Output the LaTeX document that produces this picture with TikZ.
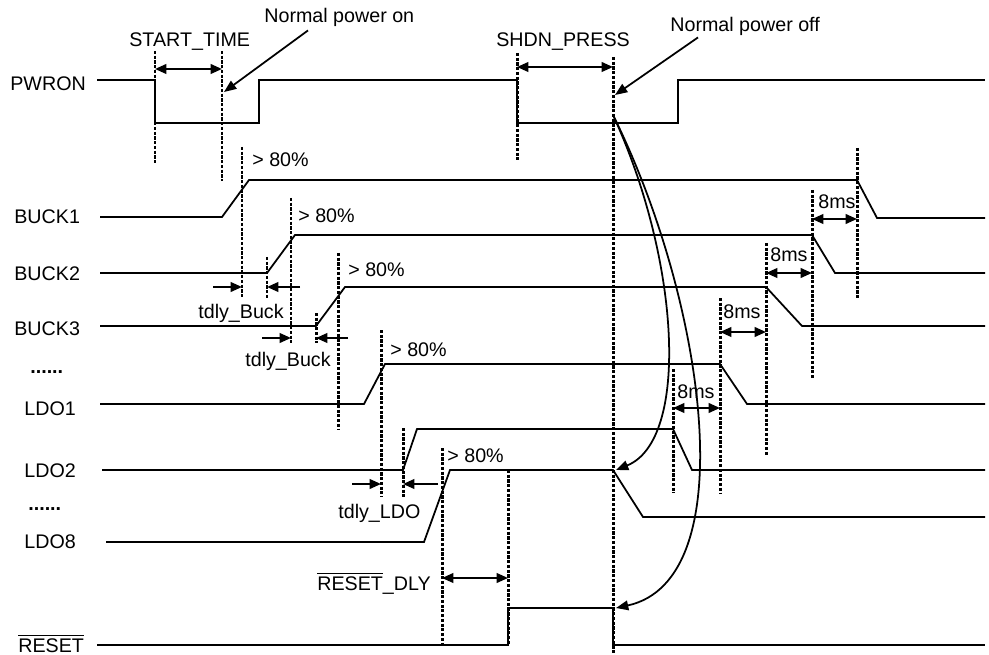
\documentclass[tikz,border=0pt]{standalone}
\usepackage{fontspec}
\setmainfont{Liberation Sans}
\usetikzlibrary{arrows.meta,calc}

\newcommand{\barred}[1]{$\overline{\mbox{#1}}$}

\begin{document}
\begin{tikzpicture}[
    x=0.2mm, y=-0.2mm,
    font=\fontsize{11.2}{13}\selectfont,
    lbl/.style={anchor=base west, inner sep=0pt},
    wave/.style={line width=1pt, line join=miter},
    guide/.style={line width=1.7pt, dash pattern=on 1.8pt off 0.9pt},
    dim/.style={{Triangle[length=6.5pt,width=5.5pt]}-{Triangle[length=6.5pt,width=5.5pt]}, line width=1.2pt},
    tip/.style={-{Triangle[length=6.5pt,width=5.5pt]}, line width=1.2pt},
    call/.style={-{Triangle[length=7pt,width=5.5pt]}, line width=1pt}
]
\useasboundingbox (0,0) rectangle (989,655);

% signal names
\node[lbl] (pwron) at (10,91) {PWRON};
\node[lbl] (buck1) at (14,224) {BUCK1};
\node[lbl] (buck2) at (14,280) {BUCK2};
\node[lbl] (buck3) at (14,335) {BUCK3};
\node[lbl] (more1) at (30,373) {\textbf{......}};
\node[lbl] (ldo1) at (24,415) {LDO1};
\node[lbl] (ldo2) at (24,477) {LDO2};
\node[lbl] (more2) at (28,510) {\textbf{......}};
\node[lbl] (ldo8) at (24,548) {LDO8};
\node[lbl] (reset) at (18,652) {\barred{RESET}};

% waveforms
\draw[wave] (97,80) -- (155,80) -- (155,123) -- (259,123) -- (259,80) -- (517,80)
    -- (517,123) -- (678,123) -- (678,80) -- (985,80);
\draw[wave] (100,217) -- (222,217) -- (249,180) -- (857,180) -- (877,218) -- (985,218);
\draw[wave] (100,273) -- (267,273) -- (295,235) -- (812,235) -- (835,273) -- (985,273);
\draw[wave] (100,326) -- (316,326) -- (345,287) -- (766,287) -- (802,326) -- (985,326);
\draw[wave] (100,404) -- (364,404) -- (385,364) -- (720,364) -- (747,404) -- (985,404);
\draw[wave] (102,470) -- (403,470) -- (417,429) -- (673,429) -- (692,470) -- (985,470);
\draw[wave] (106,542) -- (424,542) -- (450,470) -- (613,470) -- (643,517) -- (985,517);
\draw[wave] (97,645) -- (508,645) -- (508,608) -- (613,608) -- (613,645) -- (985,645);

% timing marks
\foreach \x/\a/\b in {155/51/163, 222/51/181, 517/53/160, 613/57/655,
    242/147/298, 267/257/298, 291/198/343, 316/313/343, 338/253/430,
    381/330/497, 403/428/497, 442/448/645, 508/470/645,
    857/148/298, 812/190/378, 766/243/455, 720/298/493, 673/369/493}
    \draw[guide] (\x,\a) -- (\x,\b);

% power on / power off
\node[lbl] (st) at (129,47) {START\_TIME};
\draw[dim] (155,69) -- (222,69);
\node[lbl] (sp) at (496,47) {SHDN\_PRESS};
\draw[dim] (517,67) -- (613,67);

\node[lbl] (pon) at (264,23) {Normal power on};
\coordinate (onhit) at (224,92);
\draw[call] ($(pon.south west)+(44,3)$) -- (onhit);
\node[lbl] (poff) at (670,32) {Normal power off};
\coordinate (offhit) at (615,95);
\draw[call] ($(poff.south west)+(28,1)$) -- (offhit);

% ramp thresholds
\node[lbl] at (252,167) {> 80\%};
\node[lbl] at (298,223) {> 80\%};
\node[lbl] at (348,276) {> 80\%};
\node[lbl] at (390,356) {> 80\%};
\node[lbl] at (447,462) {> 80\%};

% delays between rails
\draw[tip] (213,287) -- (242,287);
\draw[tip] (300,287) -- (267,287);
\node[lbl] (tb1) at (198,318) {tdly\_Buck};
\draw[tip] (262,338) -- (291,338);
\draw[tip] (348,338) -- (316,338);
\node[lbl] (tb2) at (245,366) {tdly\_Buck};
\draw[tip] (352,484) -- (381,484);
\draw[tip] (438,484) -- (403,484);
\node[lbl] (tl) at (338,518) {tdly\_LDO};

\node[lbl] (rdly) at (317,590) {\barred{RESET}\_DLY};
\draw[dim] (442,578) -- (508,578);

% power-off sequence
\foreach \l/\r/\y in {812/857/219, 766/812/273, 720/766/332, 673/720/408}
    \draw[dim] (\l,\y) -- (\r,\y);
\node[lbl] at (818,209) {8ms};
\node[lbl] at (770,262) {8ms};
\node[lbl] at (723,318) {8ms};
\node[lbl] at (677,398) {8ms};

\coordinate (offsrc) at (613,115);
\coordinate (ldo8hit) at (616,470);
\coordinate (rsthit) at (616,608);
\draw[call] (offsrc) .. controls (680,260) and (690,440) .. (ldo8hit);
\draw[call] (offsrc) .. controls (705,300) and (745,580) .. (rsthit);
\end{tikzpicture}
\end{document}
